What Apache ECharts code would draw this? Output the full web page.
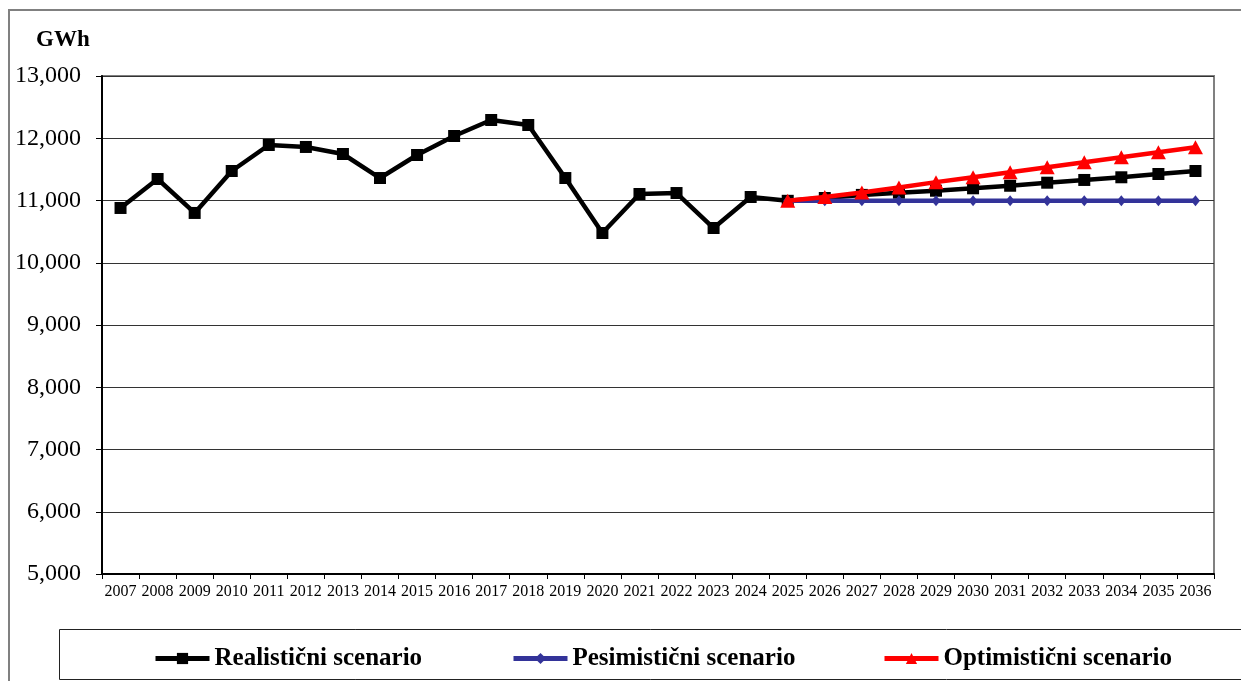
<!DOCTYPE html>
<html>
<head>
<meta charset="utf-8">
<script src="https://cdn.jsdelivr.net/npm/echarts@6/dist/echarts.min.js"></script>
<style>
  html, body { margin: 0; padding: 0; background: #fff; }
  #chart { width: 1241px; height: 681px; }
</style>
</head>
<body>
<div id="chart"></div>
<script>
// Electricity consumption, history and three scenarios (GWh)
const years = ['2007','2008','2009','2010','2011','2012','2013','2014','2015','2016',
  '2017','2018','2019','2020','2021','2022','2023','2024','2025','2026',
  '2027','2028','2029','2030','2031','2032','2033','2034','2035','2036'];

const realisticValues = [10880, 11345, 10800, 11474, 11892, 11860, 11747, 11361, 11731, 12036,
  12293, 12213, 11361, 10478, 11104, 11120, 10558, 11056, 10995, 11040,
  11090, 11125, 11157, 11196, 11237, 11286, 11330, 11373, 11426, 11474];

const pessimisticValues = [null, null, null, null, null, null, null, null, null, null,
  null, null, null, null, null, null, null, null, 10995, 10995,
  10995, 10995, 10995, 10995, 10995, 10995, 10995, 10995, 10995, 10995];

const optimisticValues = [null, null, null, null, null, null, null, null, null, null,
  null, null, null, null, null, null, null, null, 10995, 11055,
  11130, 11210, 11295, 11375, 11455, 11535, 11615, 11695, 11775, 11855];

const seriesNames = ['Realistični scenario', 'Pesimistični scenario', 'Optimistični scenario'];

const serif = '"Liberation Serif", "Times New Roman", serif';

const chart = echarts.init(document.getElementById('chart'), null, { renderer: 'canvas' });

function fmt(v) {
  return String(v).replace(/\B(?=(\d{3})+(?!\d))/g, ',');
}

function legendAt(left, name) {
  return {
    data: [name],
    left: left,
    top: 646,
    padding: 0,
    itemWidth: 54,
    itemHeight: 14,
    selectedMode: false,
    lineStyle: { width: 5 },
    textStyle: { fontFamily: serif, fontWeight: 'bold', fontSize: 25, color: '#000' }
  };
}

chart.setOption({
  animation: false,
  backgroundColor: '#fff',
  graphic: [
    { type: 'rect', silent: true, z: -1,
      shape: { x: 9, y: 10, width: 1260, height: 700 },
      style: { fill: 'none', stroke: '#808080', lineWidth: 2 } },
    { type: 'rect', silent: true,
      shape: { x: 59.5, y: 629.5, width: 1240, height: 50 },
      style: { fill: '#fff', stroke: '#222', lineWidth: 1 } },
    { type: 'text', left: 36, top: 29,
      style: { text: 'GWh', fontFamily: serif, fontWeight: 'bold', fontSize: 23, fill: '#000' } }
  ],
  legend: [
    legendAt(153, seriesNames[0]),
    legendAt(511, seriesNames[1]),
    legendAt(882, seriesNames[2])
  ],
  grid: {
    left: 102, top: 76, right: 27, bottom: 107,
    show: true, borderColor: '#808080', borderWidth: 2, backgroundColor: 'transparent'
  },
  xAxis: {
    type: 'category',
    data: years,
    boundaryGap: true,
    axisLine: { lineStyle: { color: '#000', width: 2 } },
    axisTick: { show: true, interval: 0, length: 5, lineStyle: { color: '#000', width: 1 } },
    axisLabel: { interval: 0, margin: 10, fontFamily: serif, fontSize: 16, color: '#000' },
    splitLine: { show: false }
  },
  yAxis: {
    type: 'value',
    min: 5000,
    max: 13000,
    interval: 1000,
    axisLine: { show: true, lineStyle: { color: '#000', width: 2 } },
    axisTick: { show: true, length: 6, lineStyle: { color: '#000', width: 1 } },
    axisLabel: { margin: 21, fontFamily: serif, fontSize: 24, color: '#000', formatter: fmt },
    splitLine: { show: true, lineStyle: { color: '#333', width: 1 } }
  },
  series: [
    {
      name: seriesNames[0], type: 'line', data: realisticValues,
      color: '#000',
      symbol: 'rect', symbolSize: 12, showAllSymbol: true,
      lineStyle: { color: '#000', width: 4.5 },
      itemStyle: { color: '#000' },
      z: 2
    },
    {
      name: seriesNames[1], type: 'line', data: pessimisticValues,
      color: '#333399',
      symbol: 'diamond', symbolSize: [9, 11], showAllSymbol: true,
      lineStyle: { color: '#333399', width: 4.5 },
      itemStyle: { color: '#333399' },
      z: 3
    },
    {
      name: seriesNames[2], type: 'line', data: optimisticValues,
      color: '#ff0000',
      symbol: 'triangle', symbolSize: [15, 14], showAllSymbol: true,
      lineStyle: { color: '#ff0000', width: 4.5 },
      itemStyle: { color: '#ff0000' },
      z: 4
    }
  ]
});
</script>
</body>
</html>
